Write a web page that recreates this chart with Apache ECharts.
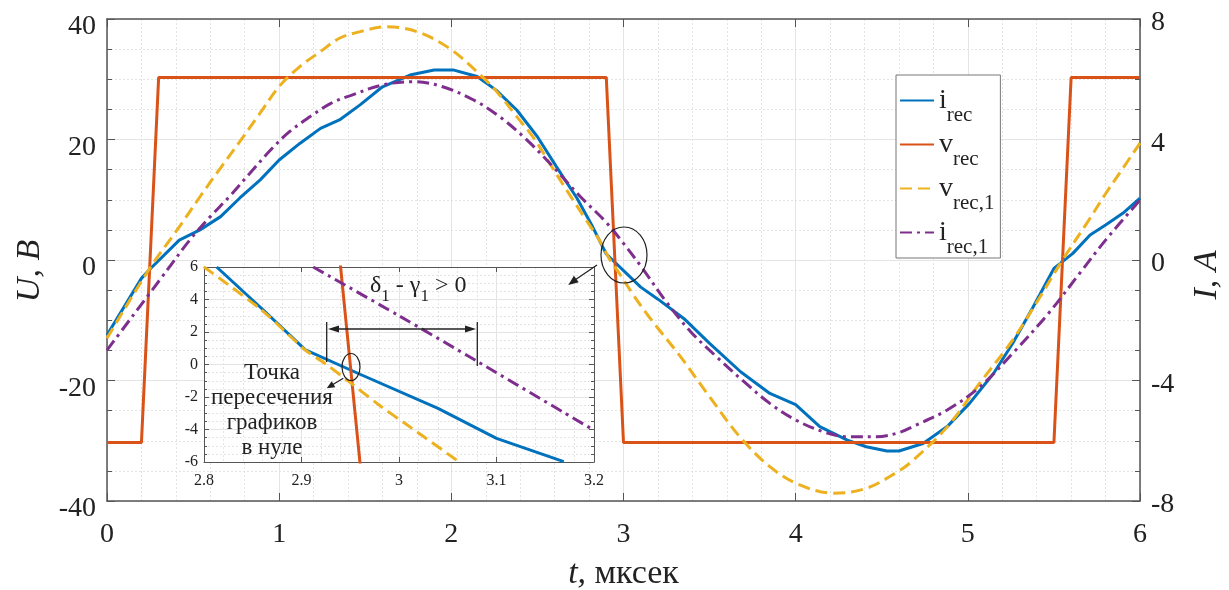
<!DOCTYPE html>
<html>
<head>
<meta charset="utf-8">
<script src="https://cdn.jsdelivr.net/npm/echarts@6/dist/echarts.min.js"></script>
<style>
  html, body { margin: 0; background: #fff; }
  #chart { width: 1229px; height: 590px; }
</style>
</head>
<body>
<div id="chart"></div>
<script>
// main plot, t in mksec
const iRec = [[0, -2.49], [0.2, -0.61], [0.25, -0.3], [0.42, 0.66], [0.54, 1.0], [0.66, 1.44], [0.77, 2.05], [0.89, 2.66], [1.0, 3.32], [1.12, 3.87], [1.24, 4.37], [1.35, 4.65], [1.47, 5.15], [1.6, 5.75], [1.76, 6.14], [1.9, 6.31], [2.01, 6.31], [2.15, 6.09], [2.26, 5.64], [2.38, 4.98], [2.5, 4.09], [2.61, 3.1], [2.73, 2.05], [2.82, 1.11], [2.9, 0.2], [3.1, -0.9], [3.2, -1.3], [3.35, -1.94], [3.5, -2.77], [3.68, -3.71], [3.85, -4.43], [4.0, -4.8], [4.14, -5.53], [4.3, -5.98], [4.41, -6.2], [4.53, -6.34], [4.6, -6.34], [4.74, -6.09], [4.88, -5.53], [5.01, -4.76], [5.15, -3.76], [5.26, -2.77], [5.38, -1.55], [5.5, -0.28], [5.61, 0.22], [5.71, 0.83], [5.8, 1.16], [5.9, 1.55], [6.0, 2.05]];
const vRec = [[0, -30.3], [0.2, -30.3], [0.3, 30.3], [2.9, 30.3], [3.0, -30.3], [5.5, -30.3], [5.6, 30.3], [6.0, 30.3]];
const vRec1 = [[0, -13], [0.25, -1.3], [0.42, 5.5], [0.54, 10.5], [0.66, 15.3], [0.77, 19.6], [0.89, 24.4], [1.0, 28.8], [1.12, 32.1], [1.24, 34.6], [1.35, 36.8], [1.47, 37.9], [1.62, 38.7], [1.8, 37.9], [1.99, 35.1], [2.18, 30.4], [2.28, 27.4], [2.38, 23.8], [2.48, 20.2], [2.57, 16.1], [2.67, 11.6], [2.77, 7.2], [2.86, 3.3], [2.92, 0.1], [2.98, -2.4], [3.06, -5.9], [3.15, -9.5], [3.33, -16.0], [3.5, -22.7], [3.68, -29.5], [3.85, -34.3], [4.02, -37.3], [4.22, -38.7], [4.41, -37.9], [4.6, -35.0], [4.68, -33.3], [4.88, -27.7], [5.07, -20.4], [5.26, -13.3], [5.42, -6.1], [5.55, 0], [5.7, 6.5], [5.8, 11.0], [5.9, 15.2], [6.0, 19.4]];
const iRec1 = [[0, -2.99], [0.35, -0.33], [0.48, 0.66], [0.6, 1.44], [0.71, 2.1], [0.83, 2.88], [0.95, 3.65], [1.06, 4.26], [1.18, 4.76], [1.3, 5.2], [1.41, 5.45], [1.6, 5.81], [1.78, 5.92], [1.95, 5.75], [2.13, 5.31], [2.28, 4.76], [2.44, 3.98], [2.59, 3.1], [2.75, 2.1], [2.9, 1.25], [3.0, 0.55], [3.1, -0.2], [3.25, -1.4], [3.39, -2.38], [3.54, -3.21], [3.7, -4.04], [3.85, -4.76], [4.0, -5.31], [4.16, -5.7], [4.31, -5.87], [4.47, -5.87], [4.6, -5.73], [4.68, -5.53], [4.88, -4.98], [5.07, -4.21], [5.26, -3.1], [5.46, -1.83], [5.65, -0.44], [5.8, 0.66], [6.0, 1.99]];

// inset (zoom around t = 3), all in the U scale
const iRecZoom = [[2.813, 6], [2.86, 3.4], [2.904, 0.9], [2.96, -0.6], [3.04, -2.7], [3.1, -4.55], [3.169, -5.98]];
const vRec1Zoom = [[2.8, 6], [2.859, 3.35], [2.904, 0.89], [2.924, 0.07], [2.951, -1.16], [2.982, -2.6], [3.006, -3.62], [3.059, -5.88]];
const iRec1Zoom = [[2.912, 6], [3.0, 3.0], [3.08, 0.2], [3.2, -4.05]];

const seriesNames = ['i_rec', 'v_rec', 'v_rec,1', 'i_rec,1'];
const colors = ['#0072BD', '#D95319', '#EDB120', '#7E2F8E'];

const serif = 'Liberation Serif';
const axisColor = '#555';
const gridColor = '#e4e4e4';

const chart = echarts.init(document.getElementById('chart'));

function xAx(grid, pos, min, max, step, fs, withLabels) {
  return {
    type: 'value', gridIndex: grid, position: pos, min: min, max: max, interval: step,
    axisLine: { show: true, onZero: false, lineStyle: { color: axisColor, width: grid ? 1 : 1.5 } },
    axisTick: { show: true, inside: true, length: grid ? 5 : 8, lineStyle: { color: axisColor } },
    minorTick: { show: false, splitNumber: 5 },
    axisLabel: { show: withLabels, fontFamily: serif, fontSize: fs, color: '#222', margin: grid ? 11 : 20 },
    splitLine: { show: withLabels, lineStyle: { color: gridColor, width: 1 } },
    minorSplitLine: { show: withLabels, lineStyle: { color: gridColor, type: [2, 2], width: 1 } }
  };
}

function yAx(grid, pos, min, max, step, fs, withLabels, withSplit) {
  return {
    type: 'value', gridIndex: grid, position: pos, min: min, max: max, interval: step,
    axisLine: { show: true, onZero: false, lineStyle: { color: axisColor, width: grid ? 1 : 1.5 } },
    axisTick: { show: true, inside: true, length: grid ? 5 : 8, lineStyle: { color: axisColor } },
    minorTick: { show: true, splitNumber: 4, length: grid ? 3 : 5, lineStyle: { color: axisColor } },
    axisLabel: { show: withLabels, fontFamily: serif, fontSize: fs, color: '#222', margin: grid ? 6 : 11 },
    splitLine: { show: withSplit, lineStyle: { color: gridColor, width: 1 } },
    minorSplitLine: { show: withSplit, lineStyle: { color: gridColor, type: [2, 2], width: 1 } }
  };
}

const xAxes = [
  xAx(0, 'bottom', 0, 6, 1, 28, true),
  xAx(0, 'top', 0, 6, 1, 28, false),
  xAx(1, 'bottom', 2.8, 3.2, 0.1, 16, true),
  xAx(1, 'top', 2.8, 3.2, 0.1, 16, false)
];
xAxes[0].name = '{i|t,} мксек';
xAxes[0].nameLocation = 'middle';
xAxes[0].nameGap = 56;
xAxes[0].nameTextStyle = { fontFamily: serif, fontSize: 34, color: '#222', rich: { i: { fontFamily: serif, fontSize: 34, fontStyle: 'italic', color: '#222' } } };
xAxes[1].splitLine = { show: false };
xAxes[1].minorSplitLine = { show: false };
xAxes[3].splitLine = { show: false };
xAxes[3].minorSplitLine = { show: false };
for (const a of xAxes.slice(2)) a.z = 6;

const yAxes = [
  yAx(0, 'left', -40, 40, 20, 28, true, true),
  yAx(0, 'right', -8, 8, 4, 28, true, false),
  yAx(1, 'left', -6, 6, 2, 16, true, true),
  yAx(1, 'right', -6, 6, 2, 16, false, false)
];
yAxes[0].name = 'U, B';
yAxes[0].nameLocation = 'middle';
yAxes[0].nameGap = 60;
yAxes[0].nameTextStyle = { fontFamily: serif, fontSize: 34, fontStyle: 'italic', color: '#222', padding: [0, 22, 0, 0] };
yAxes[0].axisLabel.verticalAlign = 'top';
yAxes[0].axisLabel.lineHeight = 16;
yAxes[1].name = 'I, A';
yAxes[1].nameLocation = 'middle';
yAxes[1].nameGap = 50;
yAxes[1].nameTextStyle = { fontFamily: serif, fontSize: 34, fontStyle: 'italic', color: '#222', padding: [0, 30, 0, 0] };
yAxes[1].axisLabel.align = 'left';
yAxes[1].axisLabel.verticalAlign = 'top';
yAxes[1].axisLabel.lineHeight = 8;
for (const a of yAxes.slice(2)) a.z = 6;

function line(name, data, x, y, color, type, smooth, z) {
  return {
    name: name, type: 'line', data: data, xAxisIndex: x, yAxisIndex: y,
    showSymbol: false, symbol: 'none', smooth: smooth, z: z,
    lineStyle: { color: color, width: 3, type: type },
    itemStyle: { color: color, opacity: 0 }
  };
}

chart.setOption({
  animation: false,
  backgroundColor: '#fff',
  grid: [
    { left: 107, top: 19, width: 1033, height: 482, show: false, outerBoundsMode: 'none' },
    { left: 204, top: 267, width: 390, height: 195, show: true, backgroundColor: '#fff', borderWidth: 0, z: 5, outerBoundsMode: 'none' }
  ],
  legend: {
    data: seriesNames,
    orient: 'vertical',
    left: 896, top: 75,
    backgroundColor: '#fff',
    borderColor: '#777', borderWidth: 1, borderRadius: 0,
    padding: [0, 6, 0, 3],
    itemWidth: 34, itemHeight: 14, itemGap: -7,
    itemStyle: { opacity: 0 },
    formatter: function (name) {
      const p = name.split('_');
      return '{m|' + p[0] + '}{s|' + p[1] + '}';
    },
    textStyle: {
      fontFamily: serif, color: '#222',
      rich: {
        m: { fontFamily: serif, fontSize: 28, lineHeight: 28, color: '#222' },
        s: { fontFamily: serif, fontSize: 21, lineHeight: 16, padding: [30, 0, 0, 0], color: '#222' }
      }
    }
  },
  xAxis: xAxes,
  yAxis: yAxes,
  series: [
    line('i_rec', iRec, 0, 1, colors[0], 'solid', false, 2),
    line('v_rec', vRec, 0, 0, colors[1], 'solid', false, 2),
    line('v_rec,1', vRec1, 0, 0, colors[2], [12, 6], 0.35, 2),
    line('i_rec,1', iRec1, 0, 1, colors[3], [12, 5, 3, 5], 0.35, 2),
    line('i_rec', iRecZoom, 2, 2, colors[0], 'solid', false, 7),
    line('v_rec', vRec, 2, 2, colors[1], 'solid', false, 7),
    line('v_rec,1', vRec1Zoom, 2, 2, colors[2], [12, 6], 0.3, 7),
    line('i_rec,1', iRec1Zoom, 2, 2, colors[3], [12, 5, 3, 5], 0.3, 7)
  ],
  graphic: [
    { type: 'ellipse', z: 20, shape: { cx: 624, cy: 255, rx: 23, ry: 28 }, style: { fill: 'none', stroke: '#222', lineWidth: 1.2 } },
    { type: 'line', z: 20, shape: { x1: 597, y1: 265, x2: 572, y2: 282 }, style: { stroke: '#222', lineWidth: 1.3 } },
    { type: 'polygon', z: 20, shape: { points: [[568.3, 285], [578.7, 282.2], [573.9, 275.8]] }, style: { fill: '#222' } },
    { type: 'ellipse', z: 20, shape: { cx: 351, cy: 367, rx: 9, ry: 13.5 }, style: { fill: 'none', stroke: '#222', lineWidth: 1.2 } },
    { type: 'line', z: 20, shape: { x1: 343.3, y1: 378.3, x2: 330, y2: 386.3 }, style: { stroke: '#222', lineWidth: 1.3 } },
    { type: 'polygon', z: 20, shape: { points: [[326.7, 388.3], [335.3, 387.2], [331.7, 381.2]] }, style: { fill: '#222' } },
    { type: 'line', z: 20, shape: { x1: 326.7, y1: 322, x2: 326.7, y2: 362 }, style: { stroke: '#222', lineWidth: 1.3 } },
    { type: 'line', z: 20, shape: { x1: 477.3, y1: 322, x2: 477.3, y2: 366 }, style: { stroke: '#222', lineWidth: 1.3 } },
    { type: 'line', z: 20, shape: { x1: 332, y1: 329, x2: 472, y2: 329 }, style: { stroke: '#222', lineWidth: 1.3 } },
    { type: 'polygon', z: 20, shape: { points: [[328, 329], [339, 325.5], [339, 332.5]] }, style: { fill: '#222' } },
    { type: 'polygon', z: 20, shape: { points: [[476, 329], [465, 325.5], [465, 332.5]] }, style: { fill: '#222' } },
    {
      type: 'text', z: 20, left: 370, top: 266,
      style: {
        text: '{a|δ}{s|1}{a| - γ}{s|1}{a| > 0}',
        rich: {
          a: { fontFamily: serif, fontSize: 24, lineHeight: 24, fill: '#222' },
          s: { fontFamily: serif, fontSize: 17, lineHeight: 12, padding: [22, 0, 0, 0], fill: '#222' }
        }
      }
    },
    {
      type: 'text', z: 20, x: 272, y: 410,
      style: {
        text: 'Точка\nпересечения\nграфиков\nв нуле',
        fontFamily: serif, fontSize: 23, lineHeight: 25,
        fill: '#222', align: 'center', verticalAlign: 'middle'
      }
    }
  ]
});
</script>
</body>
</html>
